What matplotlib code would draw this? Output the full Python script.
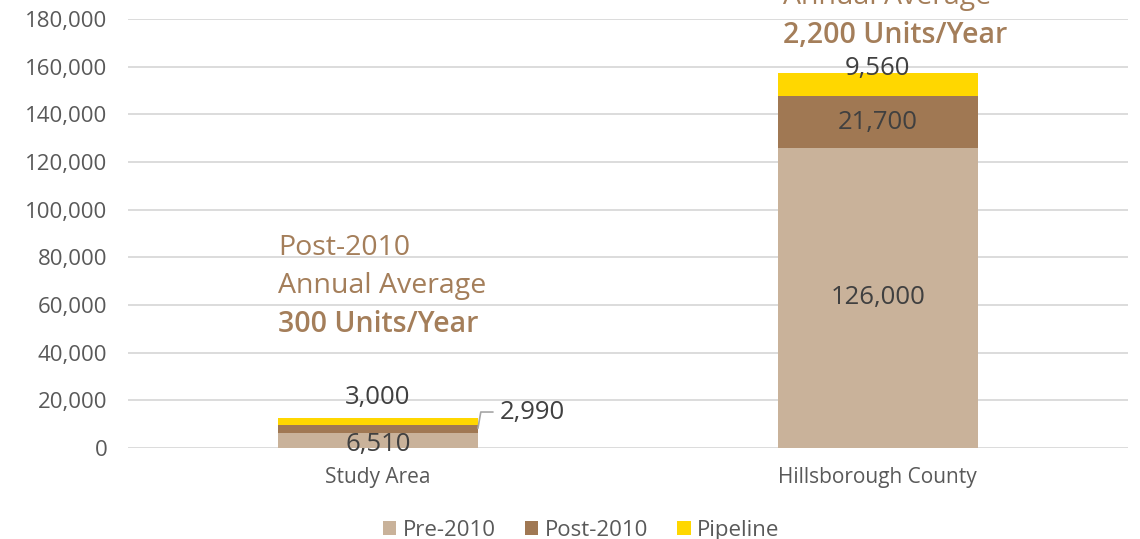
import matplotlib.pyplot as plt
from matplotlib.ticker import FuncFormatter

plt.rcParams['font.family'] = ['Open Sans', 'DejaVu Sans']

# Unidades habitacionais por período
areas = ['Study Area', 'Hillsborough County']
pre_2010 = [6510, 126000]
post_2010 = [2990, 21700]
pipeline = [3000, 9560]
media_anual = ['300 Units/Year', '2,200 Units/Year']

cor_pre = '#C9B29A'
cor_post = '#A07853'
cor_pipe = '#FFD700'
cor_texto = '#404040'
cor_titulo = '#A47E5A'

fig = plt.figure(figsize=(11.4, 5.39), dpi=100)
ax = fig.add_axes([0.1123, 0.1688, 0.877, 0.7959])

x = range(len(areas))
largura = 0.4
base_post = pre_2010
base_pipe = [a + b for a, b in zip(pre_2010, post_2010)]

b1 = ax.bar(x, pre_2010, largura, color=cor_pre, label='Pre-2010', zorder=2)
b2 = ax.bar(x, post_2010, largura, bottom=base_post, color=cor_post, label='Post-2010', zorder=2)
b3 = ax.bar(x, pipeline, largura, bottom=base_pipe, color=cor_pipe, label='Pipeline', zorder=2)

ax.set_xlim(-0.5, 1.5)
ax.set_ylim(0, 180000)
ax.set_yticks(range(0, 180001, 20000))
ax.yaxis.set_major_formatter(FuncFormatter(lambda v, p: f'{int(v):,}'))
ax.grid(axis='y', color='#D9D9D9', linewidth=1.3, zorder=0)
for s in ax.spines.values():
    s.set_visible(False)
ax.tick_params(axis='y', length=0, labelsize=16, labelcolor='#595959', pad=15)
ax.tick_params(axis='x', length=0, labelsize=15, labelcolor='#595959', pad=14)
ax.set_xticks(list(x))
ax.set_xticklabels(areas)

# Rótulos da Study Area
ax.text(0, pre_2010[0] / 2 - 1900, f'{pre_2010[0]:,}', ha='center', va='center',
        fontsize=18.5, color=cor_texto, zorder=3)
ax.text(0, base_pipe[0] + pipeline[0] + 8900, f'{pipeline[0]:,}', ha='center', va='center',
        fontsize=18.5, color=cor_texto, zorder=3)
ax.annotate(f'{post_2010[0]:,}', xy=(largura / 2, base_post[0] + post_2010[0] / 2 + 300),
            xytext=(0.244, 15100),
            ha='left', va='center', fontsize=18.5, color=cor_texto,
            arrowprops=dict(arrowstyle='-', color='#A6A6A6', lw=1.2,
                            connectionstyle='angle,angleA=0,angleB=80,rad=0',
                            shrinkA=3, shrinkB=0))

# Rótulos de Hillsborough County
ax.text(1, pre_2010[1] / 2 + 350, f'{pre_2010[1]:,}', ha='center', va='center',
        fontsize=18.5, color=cor_texto, zorder=3)
ax.text(1, base_post[1] + post_2010[1] / 2 - 450, f'{post_2010[1]:,}', ha='center', va='center',
        fontsize=18.5, color=cor_texto, zorder=3)
ax.text(1, base_pipe[1] + pipeline[1] / 2 + 6900, f'{pipeline[1]:,}', ha='center', va='center',
        fontsize=18.5, color=cor_texto, zorder=3)

# Média anual pós-2010
for i, (xi, y0) in enumerate([(-0.2, 83900), (0.81, 205200)]):
    ax.text(xi, y0, 'Post-2010', ha='left', va='center', fontsize=20.5,
            color=cor_titulo, clip_on=False)
    ax.text(xi, y0 - 16000, 'Annual Average', ha='left', va='center', fontsize=20.5,
            color=cor_titulo, clip_on=False)
    ax.text(xi, y0 - 32000, media_anual[i], ha='left', va='center', fontsize=20.5,
            color=cor_titulo, fontweight='semibold', clip_on=False)

fig.legend(handles=[b1, b2, b3], loc='lower center', bbox_to_anchor=(0.51, -0.04),
           ncol=3, frameon=False, fontsize=16, labelcolor='#595959',
           handlelength=0.6, handleheight=0.6, handletextpad=0.3, columnspacing=1.3)

fig.savefig('out.png', dpi=100)
